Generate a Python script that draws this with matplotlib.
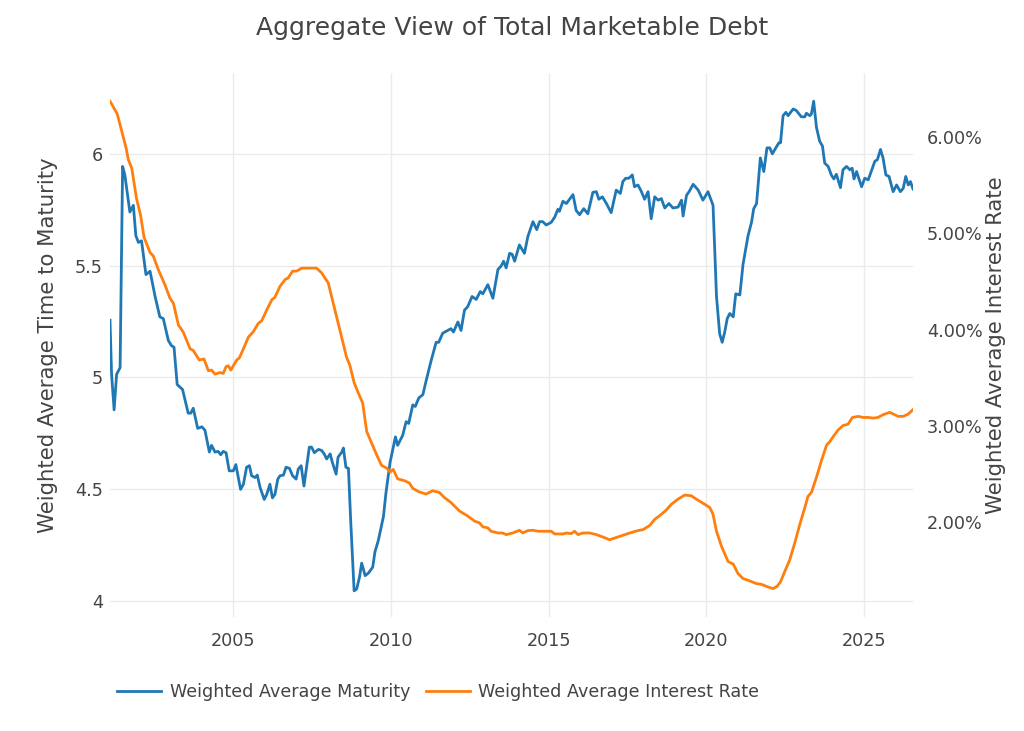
import matplotlib
matplotlib.use("Agg")
import matplotlib.pyplot as plt
from matplotlib.ticker import FuncFormatter, FixedLocator

# ---- data (decimal years) ----
wam_years = [
    2001.09, 2001.14, 2001.22, 2001.30, 2001.41, 2001.49, 2001.56, 2001.72, 2001.83, 2001.91,
    2001.99, 2002.09, 2002.23, 2002.36, 2002.52, 2002.67, 2002.78, 2002.94, 2003.04, 2003.12,
    2003.22, 2003.39, 2003.57, 2003.65, 2003.73, 2003.87, 2004.00, 2004.10, 2004.24, 2004.31,
    2004.42, 2004.52, 2004.60, 2004.68, 2004.77, 2004.87, 2005.00, 2005.08, 2005.23, 2005.32,
    2005.42, 2005.51, 2005.58, 2005.69, 2005.76, 2005.85, 2005.98, 2006.06, 2006.16, 2006.24,
    2006.32, 2006.41, 2006.48, 2006.59, 2006.67, 2006.78, 2006.88, 2006.99, 2007.06, 2007.15,
    2007.24, 2007.33, 2007.41, 2007.48, 2007.57, 2007.70, 2007.80, 2007.88, 2007.96, 2008.07,
    2008.14, 2008.26, 2008.32, 2008.44, 2008.49, 2008.57, 2008.65, 2008.72, 2008.83, 2008.91,
    2009.00, 2009.07, 2009.18, 2009.28, 2009.42, 2009.49, 2009.60, 2009.76, 2009.84, 2009.97,
    2010.14, 2010.21, 2010.37, 2010.48, 2010.56, 2010.69, 2010.77, 2010.88, 2011.01, 2011.11,
    2011.27, 2011.43, 2011.51, 2011.64, 2011.80, 2011.90, 2011.98, 2012.12, 2012.22, 2012.33,
    2012.43, 2012.57, 2012.70, 2012.83, 2012.91, 2013.07, 2013.23, 2013.39, 2013.49, 2013.57,
    2013.65, 2013.76, 2013.84, 2013.92, 2014.07, 2014.23, 2014.34, 2014.50, 2014.62, 2014.71,
    2014.81, 2014.92, 2015.08, 2015.19, 2015.29, 2015.34, 2015.45, 2015.56, 2015.77, 2015.87,
    2015.98, 2016.11, 2016.24, 2016.40, 2016.51, 2016.59, 2016.70, 2016.83, 2016.98, 2017.14,
    2017.27, 2017.35, 2017.44, 2017.54, 2017.65, 2017.72, 2017.83, 2017.94, 2018.04, 2018.15,
    2018.25, 2018.36, 2018.47, 2018.57, 2018.68, 2018.81, 2018.94, 2019.10, 2019.21, 2019.26,
    2019.37, 2019.45, 2019.58, 2019.74, 2019.89, 2020.05, 2020.21, 2020.32, 2020.42, 2020.50,
    2020.58, 2020.66, 2020.74, 2020.85, 2020.93, 2021.06, 2021.16, 2021.32, 2021.43, 2021.50,
    2021.59, 2021.71, 2021.82, 2021.92, 2022.01, 2022.09, 2022.20, 2022.30, 2022.35, 2022.43,
    2022.52, 2022.59, 2022.75, 2022.85, 2023.01, 2023.12, 2023.17, 2023.28, 2023.33, 2023.40,
    2023.49, 2023.59, 2023.68, 2023.75, 2023.86, 2023.96, 2024.04, 2024.12, 2024.25, 2024.33,
    2024.44, 2024.55, 2024.62, 2024.68, 2024.76, 2024.92, 2025.02, 2025.13, 2025.34, 2025.42,
    2025.52, 2025.60, 2025.69, 2025.79, 2025.92, 2026.03, 2026.15, 2026.24, 2026.32, 2026.40,
    2026.47, 2026.55,
]
wam_values = [
    5.256, 5.014, 4.855, 5.014, 5.044, 5.944, 5.906, 5.740, 5.770, 5.634,
    5.604, 5.611, 5.460, 5.475, 5.362, 5.271, 5.263, 5.165, 5.142, 5.135,
    4.968, 4.946, 4.840, 4.840, 4.862, 4.772, 4.779, 4.764, 4.666, 4.696,
    4.666, 4.669, 4.654, 4.669, 4.663, 4.582, 4.582, 4.610, 4.499, 4.522,
    4.598, 4.605, 4.560, 4.552, 4.563, 4.507, 4.454, 4.477, 4.522, 4.461,
    4.477, 4.545, 4.560, 4.563, 4.598, 4.593, 4.560, 4.545, 4.590, 4.605,
    4.514, 4.605, 4.688, 4.688, 4.663, 4.678, 4.673, 4.658, 4.635, 4.658,
    4.620, 4.567, 4.643, 4.666, 4.684, 4.598, 4.593, 4.363, 4.045, 4.053,
    4.106, 4.169, 4.113, 4.124, 4.151, 4.219, 4.272, 4.378, 4.484, 4.620,
    4.734, 4.696, 4.741, 4.802, 4.794, 4.877, 4.870, 4.908, 4.923, 4.983,
    5.074, 5.157, 5.157, 5.198, 5.210, 5.218, 5.203, 5.248, 5.210, 5.301,
    5.316, 5.362, 5.349, 5.384, 5.374, 5.415, 5.354, 5.483, 5.498, 5.520,
    5.490, 5.555, 5.551, 5.520, 5.593, 5.555, 5.631, 5.697, 5.661, 5.697,
    5.697, 5.682, 5.694, 5.717, 5.752, 5.743, 5.788, 5.778, 5.818, 5.747,
    5.728, 5.755, 5.732, 5.828, 5.831, 5.797, 5.808, 5.778, 5.737, 5.838,
    5.823, 5.876, 5.891, 5.891, 5.906, 5.853, 5.861, 5.831, 5.797, 5.831,
    5.710, 5.808, 5.793, 5.800, 5.758, 5.778, 5.758, 5.762, 5.793, 5.722,
    5.815, 5.831, 5.864, 5.838, 5.793, 5.831, 5.770, 5.362, 5.195, 5.157,
    5.203, 5.263, 5.286, 5.271, 5.374, 5.369, 5.505, 5.634, 5.694, 5.755,
    5.778, 5.982, 5.921, 6.027, 6.027, 6.000, 6.027, 6.050, 6.050, 6.171,
    6.186, 6.171, 6.201, 6.194, 6.166, 6.166, 6.182, 6.171, 6.179, 6.236,
    6.118, 6.057, 6.035, 5.959, 5.944, 5.906, 5.888, 5.909, 5.849, 5.929,
    5.944, 5.929, 5.936, 5.888, 5.921, 5.853, 5.891, 5.884, 5.967, 5.974,
    6.020, 5.982, 5.906, 5.899, 5.831, 5.861, 5.831, 5.846, 5.899, 5.861,
    5.876, 5.843,
]

rate_years = [
    2001.09, 2001.32, 2001.46, 2001.60, 2001.67, 2001.78, 2001.93, 2002.06, 2002.17, 2002.36,
    2002.46, 2002.62, 2002.83, 2002.99, 2003.10, 2003.26, 2003.41, 2003.63, 2003.73, 2003.92,
    2004.07, 2004.21, 2004.31, 2004.42, 2004.58, 2004.68, 2004.77, 2004.84, 2004.92, 2005.11,
    2005.19, 2005.32, 2005.48, 2005.63, 2005.79, 2005.90, 2006.06, 2006.22, 2006.32, 2006.48,
    2006.64, 2006.74, 2006.88, 2007.01, 2007.17, 2007.38, 2007.64, 2007.80, 2008.01, 2008.17,
    2008.38, 2008.59, 2008.70, 2008.83, 2008.96, 2009.10, 2009.23, 2009.39, 2009.55, 2009.70,
    2009.86, 2009.97, 2010.07, 2010.21, 2010.42, 2010.58, 2010.69, 2010.88, 2011.11, 2011.32,
    2011.53, 2011.69, 2011.90, 2012.17, 2012.43, 2012.65, 2012.80, 2012.91, 2013.07, 2013.17,
    2013.39, 2013.54, 2013.65, 2013.86, 2014.07, 2014.18, 2014.34, 2014.50, 2014.66, 2015.08,
    2015.19, 2015.45, 2015.56, 2015.71, 2015.82, 2015.93, 2016.08, 2016.30, 2016.51, 2016.72,
    2016.93, 2017.25, 2017.57, 2017.83, 2017.99, 2018.20, 2018.36, 2018.57, 2018.73, 2018.89,
    2019.10, 2019.31, 2019.52, 2019.68, 2019.89, 2020.11, 2020.21, 2020.32, 2020.48, 2020.69,
    2020.85, 2021.00, 2021.16, 2021.37, 2021.59, 2021.74, 2021.90, 2022.11, 2022.24, 2022.35,
    2022.48, 2022.64, 2022.80, 2022.96, 2023.12, 2023.22, 2023.33, 2023.49, 2023.65, 2023.81,
    2023.91, 2024.02, 2024.18, 2024.33, 2024.49, 2024.63, 2024.81, 2024.97, 2025.13, 2025.29,
    2025.44, 2025.60, 2025.81, 2026.08, 2026.24, 2026.40, 2026.55,
]
rate_values = [
    6.368, 6.235, 6.060, 5.884, 5.762, 5.674, 5.359, 5.184, 4.956, 4.799,
    4.764, 4.623, 4.466, 4.326, 4.273, 4.046, 3.976, 3.800, 3.783, 3.685,
    3.695, 3.573, 3.580, 3.538, 3.555, 3.545, 3.615, 3.625, 3.580, 3.685,
    3.706, 3.800, 3.923, 3.976, 4.063, 4.091, 4.203, 4.308, 4.336, 4.448,
    4.518, 4.536, 4.606, 4.606, 4.637, 4.637, 4.637, 4.588, 4.483, 4.273,
    3.993, 3.713, 3.625, 3.450, 3.345, 3.240, 2.942, 2.820, 2.697, 2.592,
    2.564, 2.522, 2.550, 2.452, 2.434, 2.410, 2.354, 2.319, 2.294, 2.329,
    2.312, 2.259, 2.207, 2.119, 2.067, 2.014, 1.997, 1.955, 1.944, 1.909,
    1.891, 1.891, 1.874, 1.891, 1.919, 1.891, 1.916, 1.919, 1.909, 1.909,
    1.881, 1.881, 1.891, 1.884, 1.909, 1.874, 1.891, 1.891, 1.874, 1.849,
    1.821, 1.856, 1.891, 1.916, 1.926, 1.968, 2.032, 2.084, 2.130, 2.189,
    2.242, 2.284, 2.277, 2.242, 2.200, 2.154, 2.084, 1.909, 1.751, 1.594,
    1.569, 1.471, 1.419, 1.394, 1.366, 1.359, 1.338, 1.314, 1.338, 1.384,
    1.489, 1.611, 1.786, 1.979, 2.154, 2.270, 2.312, 2.469, 2.644, 2.802,
    2.837, 2.890, 2.960, 3.005, 3.019, 3.089, 3.100, 3.089, 3.089, 3.082,
    3.089, 3.117, 3.142, 3.100, 3.100, 3.124, 3.170,
]

x_ticks = [2005, 2010, 2015, 2020, 2025]
left_ticks = [4, 4.5, 5, 5.5, 6]
right_ticks = [2, 3, 4, 5, 6]

title = "Aggregate View of Total Marketable Debt"
left_label = "Weighted Average Time to Maturity"
right_label = "Weighted Average Interest Rate"
series_names = ["Weighted Average Maturity", "Weighted Average Interest Rate"]

# ---- style ----
plt.rcParams['font.family'] = ['DejaVu Sans']
TEXT = '#444444'
GRID = '#ebebeb'
BLUE = '#1f77b4'
ORANGE = '#ff7f0e'

fig = plt.figure(figsize=(10.24, 7.31), dpi=100)
ax = fig.add_axes([110/1024, (731-617)/731, 803/1024, 544/731])
ax2 = ax.twinx()

l1, = ax.plot(wam_years, wam_values, color=BLUE, lw=2.0, solid_joinstyle='round')
l2, = ax2.plot(rate_years, rate_values, color=ORANGE, lw=2.0, solid_joinstyle='round')

ax.set_xlim(min(wam_years[0], rate_years[0]), max(wam_years[-1], rate_years[-1]))
ax.set_ylim(3.928, 6.362)
ax2.set_ylim(1.02, 6.66)

ax.xaxis.set_major_locator(FixedLocator(x_ticks))
ax.xaxis.set_major_formatter(FuncFormatter(lambda v, p: f"{int(round(v))}"))
ax.yaxis.set_major_locator(FixedLocator(left_ticks))
ax.yaxis.set_major_formatter(FuncFormatter(lambda v, p: f"{v:g}"))
ax2.yaxis.set_major_locator(FixedLocator(right_ticks))
ax2.yaxis.set_major_formatter(FuncFormatter(lambda v, p: f"{v:.2f}%"))

ax.grid(True, color=GRID, lw=1.0)
ax.set_axisbelow(True)
for a in (ax, ax2):
    for s in a.spines.values():
        s.set_visible(False)
    a.tick_params(length=0, colors=TEXT, labelsize=12.7)
ax.tick_params(axis='x', pad=11)
ax.tick_params(axis='y', pad=5)
ax2.tick_params(axis='y', pad=10)

ax.set_ylabel(left_label, color=TEXT, fontsize=15.3, labelpad=12.5)
ax2.set_ylabel(right_label, color=TEXT, fontsize=15.3, labelpad=2.5)

fig.text(0.5, 1 - 28/731, title, ha='center', va='center', color=TEXT, fontsize=18)

leg = fig.legend([l1, l2], series_names, loc='center left',
                 bbox_to_anchor=(117/1024, 1 - 692/731), ncol=2, frameon=False,
                 fontsize=12.6, handlelength=2.5, handletextpad=0.5, columnspacing=0.9,
                 borderaxespad=0, borderpad=0)
for t in leg.get_texts():
    t.set_color(TEXT)

fig.savefig("out.png", dpi=100)
